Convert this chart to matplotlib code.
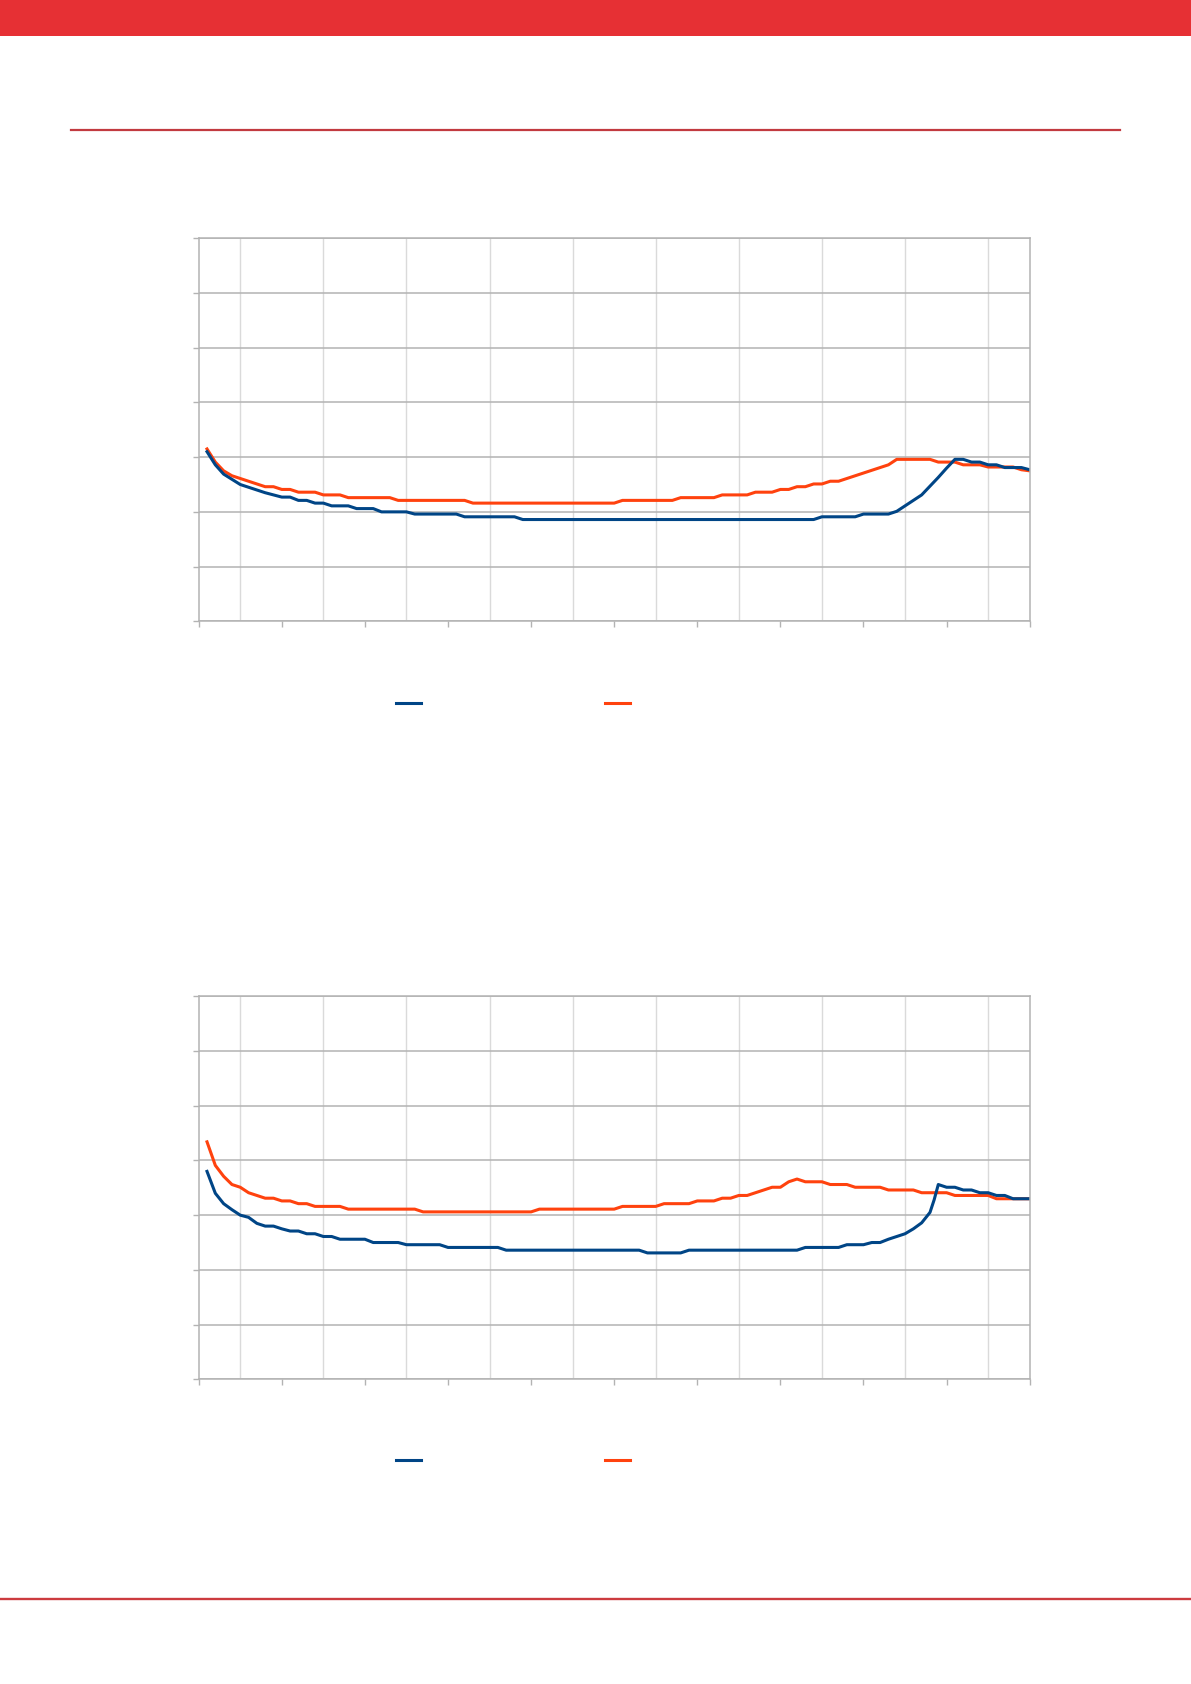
import matplotlib
matplotlib.use("Agg")
import matplotlib.pyplot as plt
from matplotlib.patches import Rectangle
from matplotlib.lines import Line2D

W, H = 1191, 1684

# chart 1 - series (x in axis units, y in value units)
c1_blue_x = [0.1, 0.2, 0.3, 0.5, 0.7, 0.8, 0.9, 1.0, 1.1, 1.2, 1.3, 1.4, 1.5, 1.6, 1.8, 1.9, 2.1, 2.2, 2.5,
             2.6, 3.1, 3.2, 3.8, 3.9, 7.4, 7.5, 7.9, 8.0, 8.3, 8.4, 8.5, 8.6, 8.7, 8.8, 8.9, 9.0, 9.1, 9.2,
             9.3, 9.4, 9.5, 9.6, 9.7, 9.9, 10.0]
c1_blue_y = [3.10, 2.86, 2.69, 2.50, 2.40, 2.35, 2.31, 2.27, 2.27, 2.21, 2.21, 2.16, 2.16, 2.11, 2.11, 2.06,
             2.06, 2.00, 2.00, 1.96, 1.96, 1.91, 1.91, 1.86, 1.86, 1.91, 1.91, 1.96, 1.96, 2.01, 2.11, 2.21,
             2.31, 2.47, 2.63, 2.80, 2.96, 2.96, 2.91, 2.91, 2.86, 2.86, 2.81, 2.81, 2.77]
c1_orange_x = [0.1, 0.2, 0.3, 0.4, 0.5, 0.8, 0.9, 1.0, 1.1, 1.2, 1.4, 1.5, 1.7, 1.8, 2.3, 2.4, 3.2, 3.3,
               5.0, 5.1, 5.7, 5.8, 6.2, 6.3, 6.6, 6.7, 6.9, 7.0, 7.1, 7.2, 7.3, 7.4, 7.5, 7.6, 7.7, 8.3,
               8.4, 8.8, 8.9, 9.1, 9.2, 9.4, 9.5, 9.8, 9.9, 10.0]
c1_orange_y = [3.15, 2.91, 2.75, 2.66, 2.61, 2.46, 2.46, 2.41, 2.41, 2.36, 2.36, 2.31, 2.31, 2.26, 2.26,
               2.21, 2.21, 2.16, 2.16, 2.21, 2.21, 2.26, 2.26, 2.31, 2.31, 2.36, 2.36, 2.41, 2.41, 2.46,
               2.46, 2.51, 2.51, 2.56, 2.56, 2.86, 2.96, 2.96, 2.91, 2.91, 2.86, 2.86, 2.82, 2.82, 2.77, 2.75]

# chart 2
c2_blue_x = [0.1, 0.2, 0.3, 0.4, 0.5, 0.6, 0.7, 0.8, 0.9, 1.0, 1.1, 1.2, 1.3, 1.4, 1.5, 1.6, 1.7, 2.0, 2.1,
             2.4, 2.5, 2.9, 3.0, 3.6, 3.7, 5.3, 5.4, 5.8, 5.9, 7.2, 7.3, 7.7, 7.8, 8.0, 8.1, 8.2, 8.3, 8.4,
             8.5, 8.6, 8.7, 8.8, 8.85, 8.9, 9.0, 9.1, 9.2, 9.3, 9.4, 9.5, 9.6, 9.7, 9.8, 10.0]
c2_blue_y = [3.80, 3.40, 3.21, 3.10, 3.00, 2.96, 2.85, 2.80, 2.80, 2.75, 2.71, 2.71, 2.66, 2.66, 2.61, 2.61,
             2.56, 2.56, 2.50, 2.50, 2.46, 2.46, 2.41, 2.41, 2.36, 2.36, 2.31, 2.31, 2.36, 2.36, 2.41, 2.41,
             2.46, 2.46, 2.50, 2.50, 2.56, 2.61, 2.66, 2.75, 2.86, 3.05, 3.28, 3.56, 3.51, 3.51, 3.46, 3.46,
             3.41, 3.41, 3.36, 3.36, 3.30, 3.30]
c2_orange_x = [0.1, 0.2, 0.3, 0.4, 0.5, 0.6, 0.7, 0.8, 0.9, 1.0, 1.1, 1.2, 1.3, 1.4, 1.7, 1.8, 2.6, 2.7,
               4.0, 4.1, 5.0, 5.1, 5.5, 5.6, 5.9, 6.0, 6.2, 6.3, 6.4, 6.5, 6.6, 6.7, 6.8, 6.9, 7.0, 7.1,
               7.2, 7.3, 7.5, 7.6, 7.8, 7.9, 8.2, 8.3, 8.6, 8.7, 9.0, 9.1, 9.5, 9.6, 10.0]
c2_orange_y = [4.34, 3.91, 3.71, 3.56, 3.51, 3.41, 3.36, 3.31, 3.31, 3.26, 3.26, 3.21, 3.21, 3.16, 3.16,
               3.11, 3.11, 3.06, 3.06, 3.11, 3.11, 3.16, 3.16, 3.21, 3.21, 3.26, 3.26, 3.31, 3.31, 3.36,
               3.36, 3.41, 3.46, 3.51, 3.51, 3.61, 3.66, 3.61, 3.61, 3.56, 3.56, 3.51, 3.51, 3.46, 3.46,
               3.41, 3.41, 3.36, 3.36, 3.30, 3.30]

BLUE = "#004586"
ORANGE = "#ff420e"
GRID = "#b3b3b3"
VGRID = "#dadada"

fig = plt.figure(figsize=(W / 100, H / 100), dpi=100)
fig.patch.set_facecolor("white")

# page decoration: red band, header rule, footer rule
fig.patches.append(Rectangle((0, 1 - 36 / H), 1, 36 / H, transform=fig.transFigure,
                             facecolor="#e63034", edgecolor="none"))
fig.add_artist(Line2D([71 / W, 1120 / W], [1 - 129.5 / H] * 2, transform=fig.transFigure,
                      color="#c23a40", lw=1.6))
fig.add_artist(Line2D([0, 1], [1 - 1598.5 / H] * 2, transform=fig.transFigure,
                      color="#cc3b3f", lw=1.7))


def make_chart(top_px, bx, by, ox, oy, legend_y_px):
    left = 198.7 / W
    width = 831 / W
    height = 383 / H
    bottom = 1 - (top_px + 383) / H
    ax = fig.add_axes([left, bottom, width, height])
    ax.set_xlim(0, 10)
    ax.set_ylim(0, 7)
    ax.set_yticks(range(0, 8))
    ax.set_xticks(range(0, 11))
    ax.set_xticks([i + 0.5 for i in range(10)], minor=True)
    ax.set_yticklabels([])
    ax.set_xticklabels([])
    ax.tick_params(axis="both", which="major", length=4, color=GRID, width=1)
    ax.tick_params(axis="x", which="minor", length=0)
    ax.grid(axis="y", which="major", color=GRID, lw=1.1)
    ax.grid(axis="x", which="minor", color=VGRID, lw=1.0)
    for s in ax.spines.values():
        s.set_color(GRID)
        s.set_linewidth(1.1)
    ax.set_axisbelow(True)
    h2, = ax.plot(ox, oy, color=ORANGE, lw=2.2, solid_joinstyle="round")
    h1, = ax.plot(bx, by, color=BLUE, lw=2.2, solid_joinstyle="round")
    # legend keys only, the source has no label text
    fig.legend([h1, h2], ["", ""], ncol=2, frameon=False, loc="center",
               bbox_to_anchor=(519 / W, 1 - legend_y_px / H),
               handlelength=1.8, handletextpad=0.8, columnspacing=12.45, fontsize=10)
    return ax


make_chart(238.3, c1_blue_x, c1_blue_y, c1_orange_x, c1_orange_y, 704.3)
make_chart(996.3, c2_blue_x, c2_blue_y, c2_orange_x, c2_orange_y, 1461)

fig.savefig("out.png", dpi=100, facecolor="white")
